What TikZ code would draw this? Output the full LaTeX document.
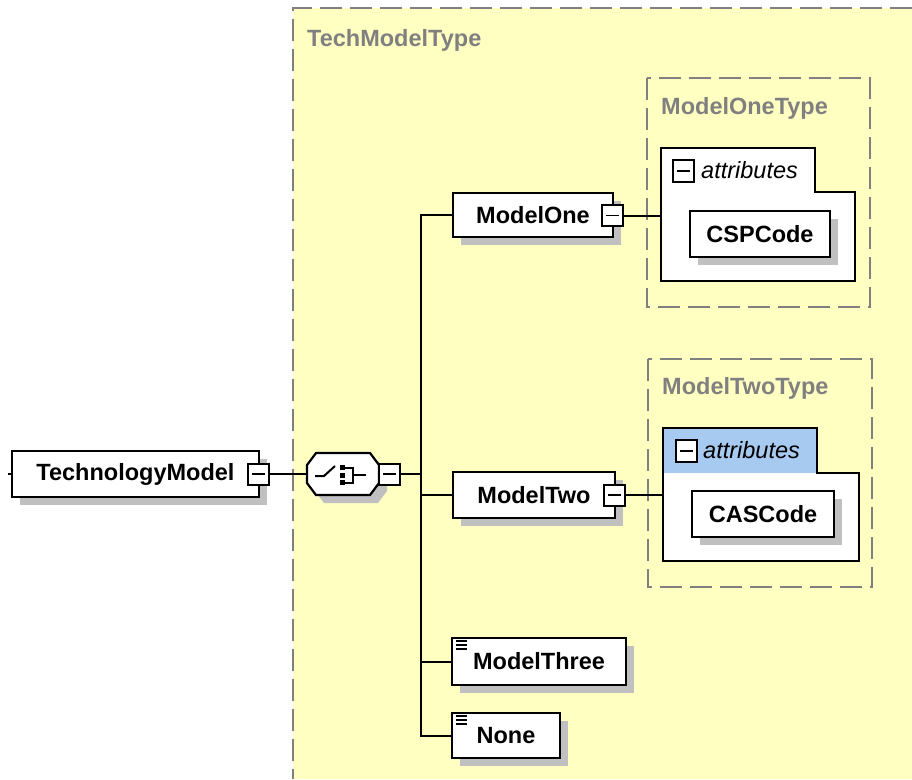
\documentclass[tikz,border=0pt]{standalone}
\usepackage{fontspec}
\setmainfont{Liberation Sans}
\usetikzlibrary{shadows}
\definecolor{yel}{RGB}{255,255,194}
\definecolor{dgray}{RGB}{128,128,128}
\definecolor{shgray}{RGB}{192,192,192}
\definecolor{tabblue}{RGB}{166,202,240}
\begin{document}
\begin{tikzpicture}[x=1pt,y=-1pt,
  shad/.style={drop shadow={shadow xshift=8pt,shadow yshift=-8pt,fill=shgray,opacity=1}},
  elem/.style={draw=black,line width=2.2pt,fill=white,inner sep=0pt,font=\fontsize{23.5}{28}\selectfont\bfseries,shad},
  minusbox/.style={draw=black,line width=2pt,fill=white,minimum width=21pt,minimum height=21pt,inner sep=0pt,
    path picture={\draw[line width=1.8pt] ([xshift=4pt]path picture bounding box.west) -- ([xshift=-4pt]path picture bounding box.east);}},
  conn/.style={draw=black,line width=2pt},
  dashbox/.style={draw=dgray,line width=2pt,dash pattern=on 22pt off 8pt},
  typelabel/.style={anchor=west,inner sep=0pt,text=dgray,font=\fontsize{23.5}{28}\selectfont\bfseries},
  attrshape/.style={draw=black,line width=2.2pt,fill=white},
  attrlabel/.style={anchor=west,inner sep=0pt,font=\fontsize{23.5}{28}\selectfont\itshape}
]
\useasboundingbox (0,0) rectangle (912,779);
% outer type area
\fill[yel] (293,8) rectangle (912,779);
\draw[dashbox] (912,8) -- (293,8) -- (293,779);
\node[typelabel] (tmt) at (307,40) {TechModelType};

% root element
\node[elem,minimum width=247pt,minimum height=46pt] (tm) at (135.5,474) {TechnologyModel};
\node[minusbox] (tmm) at (258.5,474) {};
\coordinate (stub) at (8,474);
\draw[conn] (stub) -- (tm.west);

% choice compositor
\node[minimum width=72pt,minimum height=42pt,inner sep=0pt] (ch) at (343,474) {};
\begin{scope}[shift={(ch.center)},xshift=8pt,yshift=-8pt]
  \fill[shgray] (-36,-9) -- (-27,-21) -- (27,-21) -- (36,-9) -- (36,9) -- (27,21) -- (-27,21) -- (-36,9) -- cycle;
\end{scope}
\begin{scope}[shift={(ch.center)}]
  \draw[line width=2.2pt,fill=white] (-36,-9) -- (-27,-21) -- (27,-21) -- (36,-9) -- (36,9) -- (27,21) -- (-27,21) -- (-36,9) -- cycle;
  \draw[line width=2pt] (-28,2) -- (-19,2) -- (-8,-8);
  \fill (-3,-9) rectangle (2,-4);
  \fill (-3,-1.5) rectangle (2,3.5);
  \fill (-3,6) rectangle (2,11);
  \draw[line width=2pt] (2,-6.5) -- (10,-6.5) -- (10,8.5) -- (2,8.5);
  \draw[line width=2pt] (10,1) -- (23,1);
\end{scope}
\node[minusbox] (chm) at (389.5,474) {};
\draw[conn] (tmm.east) -- (ch.west);

% children
\node[elem,minimum width=160pt,minimum height=44pt] (m1) at (533,215) {ModelOne};
\node[minusbox] (m1m) at (612.5,215.5) {};
\node[elem,minimum width=162pt,minimum height=46pt] (m2) at (534,495) {ModelTwo};
\node[minusbox] (m2m) at (614.5,495) {};
\node[elem,minimum width=174pt,minimum height=47pt] (m3) at (539,661.5) {ModelThree};
\node[elem,minimum width=108pt,minimum height=45pt] (m4) at (506,735.5) {None};
\foreach \n in {m3,m4}{
  \foreach \d in {4.5,8.5,12.5}{
    \draw[line width=2pt] ([xshift=5pt,yshift=-\d pt]\n.north west) -- ++(11,0);
  }
}

% trunk
\coordinate (tr) at (421,0);
\draw[conn] (chm.east) -- (chm.east -| tr);
\draw[conn] (m1.west) -- (m1.west -| tr) -- (m4.west -| tr) -- (m4.west);
\draw[conn] (m2.west) -- (m2.west -| tr);
\draw[conn] (m3.west) -- (m3.west -| tr);

% ModelOneType
\draw[dashbox] (647,78) rectangle (870,307);
\node[typelabel] (m1t) at (661,108) {ModelOneType};
\draw[attrshape] (661,148) -- (815,148) -- (815,192) -- (855,192) -- (855,281) -- (661,281) -- cycle;
\node[minusbox,minimum height=22pt] (a1m) at (683.5,171) {};
\node[attrlabel] (a1l) at (701,170) {attributes};
\node[elem,minimum width=140pt,minimum height=46pt] (csp) at (760,234) {CSPCode};
\coordinate (a1) at (661,215.5);
\draw[conn] (m1m.east) -- (a1);

% ModelTwoType
\draw[dashbox] (648,359) rectangle (872,587);
\node[typelabel] (m2t) at (662,388) {ModelTwoType};
\fill[white] (663,428) -- (817,428) -- (817,473) -- (859,473) -- (859,561) -- (663,561) -- cycle;
\fill[tabblue] (663,428) rectangle (817,473);
\draw[line width=2.2pt] (663,428) -- (817,428) -- (817,473) -- (859,473) -- (859,561) -- (663,561) -- cycle;
\node[minusbox,minimum height=22pt] (a2m) at (686.5,451) {};
\node[attrlabel] (a2l) at (703,450) {attributes};
\node[elem,minimum width=142pt,minimum height=46pt] (cas) at (763,514) {CASCode};
\coordinate (a2) at (663,495);
\draw[conn] (m2m.east) -- (a2);
\end{tikzpicture}
\end{document}
